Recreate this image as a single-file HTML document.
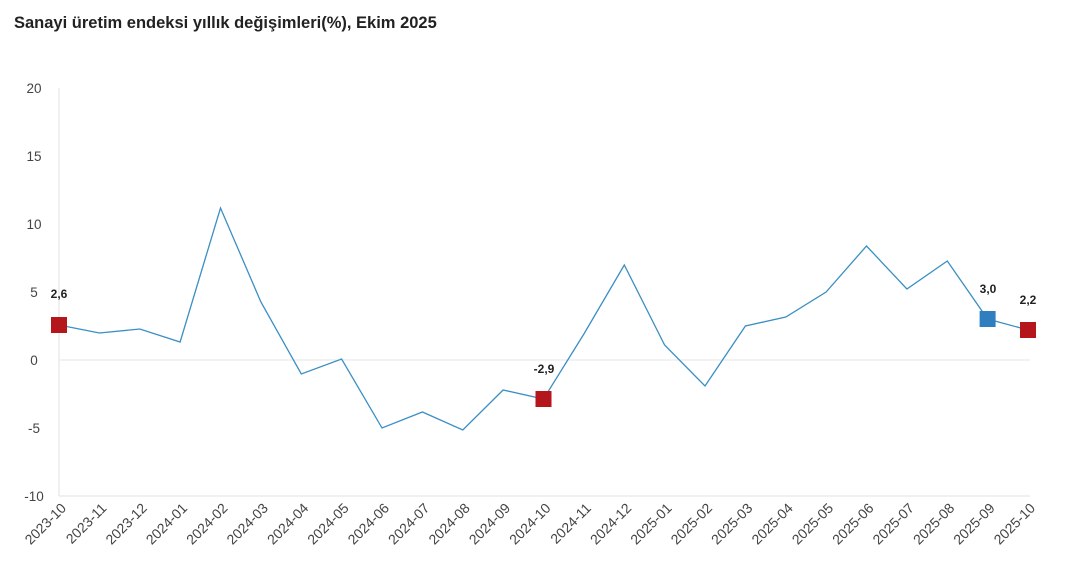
<!DOCTYPE html>
<html><head><meta charset="utf-8"><style>
body{margin:0;background:#fff;width:1080px;height:581px;overflow:hidden;font-family:"Liberation Sans",sans-serif}
</style></head><body>
<svg width="1080" height="581" xmlns="http://www.w3.org/2000/svg" font-family="Liberation Sans, sans-serif">
<text x="14" y="28" font-size="16.5" font-weight="bold" fill="#222">Sanayi üretim endeksi yıllık değişimleri(%), Ekim 2025</text>
<g font-size="13.5" fill="#444" text-anchor="middle">
<text x="34" y="93">20</text><text x="34" y="161">15</text><text x="34" y="229">10</text>
<text x="34" y="297">5</text><text x="34" y="365">0</text><text x="34" y="433">-5</text><text x="34" y="501">-10</text>
</g>
<line x1="59" y1="88" x2="59" y2="496" stroke="#e0e0e0"/>
<line x1="59" y1="360" x2="1030" y2="360" stroke="#e6e6e6"/>
<line x1="59" y1="496" x2="1030" y2="496" stroke="#e0e0e0"/>
<polyline fill="none" stroke="#3a8fc4" stroke-width="1.3" points="
59,325 99.4,333 139.8,329 180.1,342 220.5,208 260.9,302 301.3,374 341.6,359 382,428 422.4,412 462.8,430 503.1,390 543.5,399 583.9,334 624.3,265 664.6,345 705,386 745.4,326 785.8,317 826.1,292 866.5,246 906.9,289 947.3,261 987.6,319 1028,330"/>
<rect x="51" y="317" width="16" height="16" fill="#b5161c"/>
<rect x="535.5" y="391" width="16" height="16" fill="#b5161c"/>
<rect x="979.6" y="311" width="16" height="16" fill="#2f7fc0"/>
<rect x="1020" y="322" width="16" height="16" fill="#b5161c"/>
<g font-size="12" font-weight="bold" fill="#222" text-anchor="middle">
<text x="59" y="298">2,6</text><text x="544" y="373">-2,9</text>
<text x="988" y="293">3,0</text><text x="1028" y="304">2,2</text>
</g>
<g font-size="14" fill="#444" text-anchor="end">
<text transform="translate(67,509) rotate(-45)">2023-10</text>
<text transform="translate(107.4,509) rotate(-45)">2023-11</text>
<text transform="translate(147.8,509) rotate(-45)">2023-12</text>
<text transform="translate(188.1,509) rotate(-45)">2024-01</text>
<text transform="translate(228.5,509) rotate(-45)">2024-02</text>
<text transform="translate(268.9,509) rotate(-45)">2024-03</text>
<text transform="translate(309.3,509) rotate(-45)">2024-04</text>
<text transform="translate(349.6,509) rotate(-45)">2024-05</text>
<text transform="translate(390,509) rotate(-45)">2024-06</text>
<text transform="translate(430.4,509) rotate(-45)">2024-07</text>
<text transform="translate(470.8,509) rotate(-45)">2024-08</text>
<text transform="translate(511.1,509) rotate(-45)">2024-09</text>
<text transform="translate(551.5,509) rotate(-45)">2024-10</text>
<text transform="translate(591.9,509) rotate(-45)">2024-11</text>
<text transform="translate(632.3,509) rotate(-45)">2024-12</text>
<text transform="translate(672.6,509) rotate(-45)">2025-01</text>
<text transform="translate(713,509) rotate(-45)">2025-02</text>
<text transform="translate(753.4,509) rotate(-45)">2025-03</text>
<text transform="translate(793.8,509) rotate(-45)">2025-04</text>
<text transform="translate(834.1,509) rotate(-45)">2025-05</text>
<text transform="translate(874.5,509) rotate(-45)">2025-06</text>
<text transform="translate(914.9,509) rotate(-45)">2025-07</text>
<text transform="translate(955.3,509) rotate(-45)">2025-08</text>
<text transform="translate(995.6,509) rotate(-45)">2025-09</text>
<text transform="translate(1036,509) rotate(-45)">2025-10</text>
</g>
</svg>
</body></html>
